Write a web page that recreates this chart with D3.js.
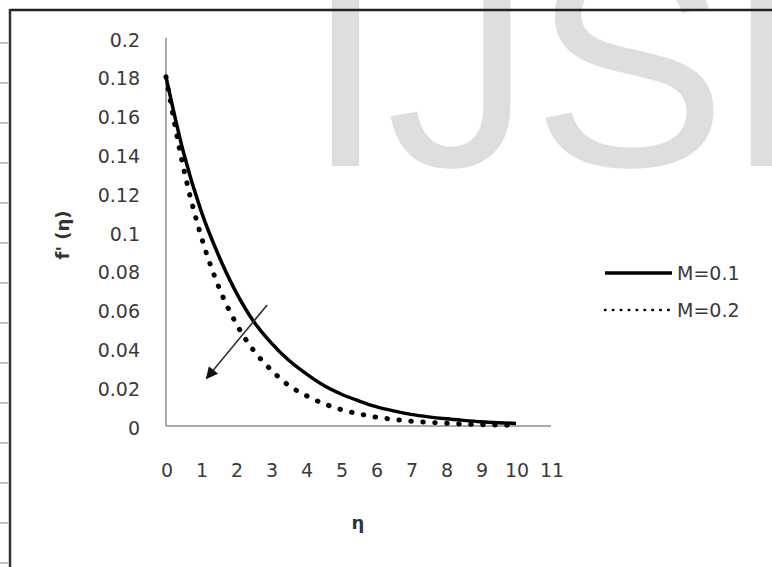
<!DOCTYPE html>
<html>
<head>
<meta charset="utf-8">
<script src="https://cdn.jsdelivr.net/npm/d3@7/dist/d3.min.js"></script>
<style>
  body { margin: 0; background: #fff; }
  svg { display: block; }
</style>
</head>
<body>
<svg id="chart" width="772" height="567"></svg>
<script>
// values
const eta = [0, 0.5, 1, 1.5, 2, 2.5, 3, 3.5, 4, 4.5, 5, 5.5, 6, 6.5, 7, 7.5, 8, 8.5, 9, 9.5, 10];
const fM01 = [0.180, 0.141, 0.111, 0.088, 0.069, 0.054, 0.043, 0.034, 0.027, 0.021, 0.0165,
              0.013, 0.010, 0.0078, 0.006, 0.0047, 0.0037, 0.0029, 0.0022, 0.0017, 0.0013];
const fM02 = [0.180, 0.133, 0.098, 0.072, 0.053, 0.039, 0.029, 0.021, 0.0157, 0.0116, 0.0085,
              0.0063, 0.0046, 0.0034, 0.0025, 0.0019, 0.0014, 0.0010, 0.0007, 0.0005, 0.0004];
const seriesNames = ["M=0.1", "M=0.2"];
const xTickLabels = ["0", "1", "2", "3", "4", "5", "6", "7", "8", "9", "10", "11"];
const yTickValues = [0, 0.02, 0.04, 0.06, 0.08, 0.1, 0.12, 0.14, 0.16, 0.18, 0.2];
const yTickLabels = ["0", "0.02", "0.04", "0.06", "0.08", "0.1", "0.12", "0.14", "0.16", "0.18", "0.2"];
// arrow annotation (eta, f') : from -> to
const arrowFrom = [2.89, 0.0624];
const arrowTo = [1.16, 0.0246];

const svg = d3.select("#chart");
const font = "'DejaVu Sans', sans-serif";
const textCol = "#3a3a3a";

const x = d3.scaleLinear().domain([0, 11]).range([166, 551]);
const y = d3.scaleLinear().domain([0, 0.2]).range([426, 38]);

// watermark (runs off the right edge like the source)
svg.append("clipPath").attr("id", "page")
    .append("rect").attr("width", 772).attr("height", 567);
svg.append("text")
    .attr("clip-path", "url(#page)")
    .attr("x", 305).attr("y", 166)
    .attr("font-family", "'Liberation Sans', Arial, sans-serif")
    .attr("font-size", 292)
    .attr("fill", "#dedede")
    .text("IJSE");

// page frame
svg.append("line").attr("x1", 10).attr("x2", 772).attr("y1", 10).attr("y2", 10)
    .attr("stroke", "#222").attr("stroke-width", 2.5);
svg.append("line").attr("x1", 10).attr("x2", 10).attr("y1", 9).attr("y2", 567)
    .attr("stroke", "#333").attr("stroke-width", 2.5);
svg.selectAll("line.ruler").data(d3.range(43, 567, 40)).join("line")
    .attr("class", "ruler")
    .attr("x1", 0).attr("x2", 8).attr("y1", d => d).attr("y2", d => d)
    .attr("stroke", "#999").attr("stroke-width", 1.2);

// axes lines
svg.append("line").attr("x1", x(0)).attr("x2", x(0)).attr("y1", y(0.2)).attr("y2", y(0))
    .attr("stroke", "#8c8c8c").attr("stroke-width", 1.5);
svg.append("line").attr("x1", x(0)).attr("x2", x(11)).attr("y1", y(0)).attr("y2", y(0))
    .attr("stroke", "#8c8c8c").attr("stroke-width", 1.5);

// tick labels
svg.selectAll("text.ylab").data(yTickValues).join("text")
    .attr("class", "ylab")
    .attr("x", 140).attr("y", d => y(d) + 2)
    .attr("dy", "0.35em")
    .attr("text-anchor", "end")
    .attr("font-family", font).attr("font-size", 19).attr("fill", textCol)
    .text((d, i) => yTickLabels[i]);

svg.selectAll("text.xlab").data(xTickLabels).join("text")
    .attr("class", "xlab")
    .attr("x", (d, i) => x(i) + 1).attr("y", 470)
    .attr("dy", "0.35em")
    .attr("text-anchor", "middle")
    .attr("font-family", font).attr("font-size", 19).attr("fill", textCol)
    .text(d => d);

// axis titles
svg.append("text")
    .attr("transform", "translate(69,235) rotate(-90)")
    .attr("text-anchor", "middle")
    .attr("font-family", font).attr("font-size", 18).attr("font-weight", "bold")
    .attr("fill", "#333")
    .text("f' (η)");
svg.append("text")
    .attr("x", 358).attr("y", 529)
    .attr("text-anchor", "middle")
    .attr("font-family", font).attr("font-size", 18).attr("font-weight", "bold")
    .attr("fill", "#333")
    .text("η");

// curves
const line = d3.line()
    .x(d => x(d[0]))
    .y(d => y(d[1]))
    .curve(d3.curveMonotoneX);

svg.append("path")
    .datum(eta.map((e, i) => [e, fM02[i]]))
    .attr("d", line)
    .attr("fill", "none").attr("stroke", "#000")
    .attr("stroke-width", 5)
    .attr("stroke-linecap", "round")
    .attr("stroke-dasharray", "0.5 11.5");

svg.append("path")
    .datum(eta.map((e, i) => [e, fM01[i]]))
    .attr("d", line)
    .attr("fill", "none").attr("stroke", "#000")
    .attr("stroke-width", 3.5);

// arrow
svg.append("defs").append("marker")
    .attr("id", "head")
    .attr("viewBox", "0 0 10 10")
    .attr("refX", 9).attr("refY", 5)
    .attr("markerWidth", 15).attr("markerHeight", 12)
    .attr("markerUnits", "userSpaceOnUse")
    .attr("orient", "auto")
    .append("path").attr("d", "M0,0 L10,5 L0,10 Z").attr("fill", "#111");

svg.append("line")
    .attr("x1", x(arrowFrom[0])).attr("y1", y(arrowFrom[1]))
    .attr("x2", x(arrowTo[0])).attr("y2", y(arrowTo[1]))
    .attr("stroke", "#333").attr("stroke-width", 1.6)
    .attr("marker-end", "url(#head)");

// legend
const legend = svg.append("g").attr("transform", "translate(605,273)");
const items = legend.selectAll("g").data(seriesNames).join("g")
    .attr("transform", (d, i) => `translate(0,${i * 37})`);
items.append("line")
    .attr("x1", 0).attr("x2", 67).attr("y1", 0).attr("y2", 0)
    .attr("stroke", "#000")
    .attr("stroke-width", (d, i) => i === 0 ? 3.5 : 2.5)
    .attr("stroke-linecap", (d, i) => i === 0 ? "butt" : "round")
    .attr("stroke-dasharray", (d, i) => i === 0 ? null : "0.5 7.4");
items.append("text")
    .attr("x", 72).attr("dy", "0.35em")
    .attr("font-family", font).attr("font-size", 19).attr("fill", textCol)
    .text(d => d);
</script>
</body>
</html>
